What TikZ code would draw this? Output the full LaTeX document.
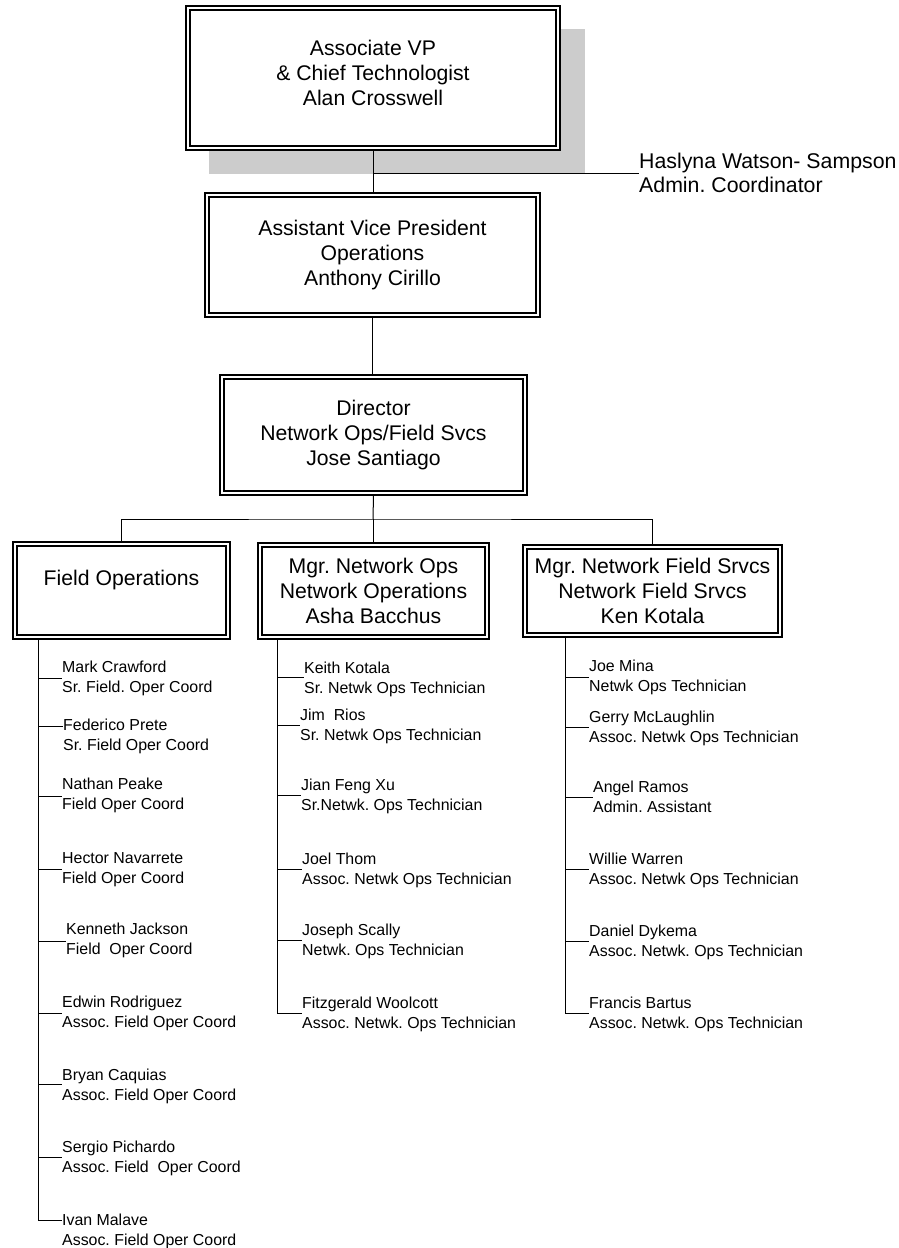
\documentclass[tikz,border=0pt]{standalone}
\usepackage{fontspec}
\setmainfont{Liberation Sans}
\usetikzlibrary{calc}
\frenchspacing
\newcommand\orgbox[6]{%
  \node[box, minimum width={#4pt-#2pt}, minimum height={#5pt-#3pt}] (#1) at ({(#2+#4)/2},{(#3+#5)/2}) {#6};
  \draw[inbox] ([shift={(4.5,4.5)}]#1.north west) rectangle ([shift={(-4.5,-4.5)}]#1.south east);
}
\newcommand\emp[6]{%
  \node[person] (#1) at (#3,#4-8) {\strut #6};
  \coordinate (#1t) at (#2,#5);
  \draw[conn] (#1t) -- (#1t -| #1.west);
}
\begin{document}
\begin{tikzpicture}[x=1pt,y=-1pt,
  conn/.style={line width=1pt},
  box/.style={draw, line width=1.1pt, fill=white, inner sep=0pt, align=center, font=\fontsize{21.2}{25.2}\selectfont},
  inbox/.style={line width=1.6pt},
  person/.style={inner sep=0pt, anchor=north west, align=left, font=\fontsize{15.9}{19.5}\selectfont\frenchspacing},
  label/.style={inner sep=0pt, anchor=north west, align=left, font=\fontsize{21.3}{24.5}\selectfont\frenchspacing},
  shadowfill/.style={fill=black!20}]
\useasboundingbox (0,0) rectangle (899,1248);
% shadow of top box
\fill[shadowfill] (209,29) rectangle (585,174);
% boxes
\orgbox{top}{186}{6}{560}{150}{Associate VP\\\& Chief Technologist\\Alan Crosswell\\[-15pt]\mbox{}}
\orgbox{vp}{205}{193}{540}{317}{Assistant Vice President\\Operations\\Anthony Cirillo}
\orgbox{dir}{220}{375}{527}{495}{Director\\Network Ops/Field Svcs\\Jose Santiago}
\orgbox{fo}{13}{542}{230}{639}{Field Operations\\\mbox{}}
\orgbox{no}{258}{543}{489}{639}{Mgr. Network Ops\\Network Operations\\Asha Bacchus}
\orgbox{nf}{523}{545}{782}{637}{Mgr. Network Field Srvcs\\Network Field Srvcs\\Ken Kotala}
% admin coordinator
\node[label] (hw) at (639,151) {\strut Haslyna Watson- Sampson\\Admin. Coordinator};
\coordinate (hj) at (373,173);
\draw[conn] (top.south) -- (top.south |- vp.north);
\draw[conn] (hj) -- (hj -| hw.west);
\draw[conn] (vp.south) -- (vp.south |- dir.north);
% bus
\coordinate (bus) at (373,519);
\draw[conn] (dir.south) -- (bus);
\draw[conn] (fo.north) |- (bus) -| (nf.north);
\draw[conn] (bus) -- (bus |- no.north);
% column 1
\emp{m1}{38}{62}{667}{678}{Mark Crawford\\Sr. Field. Oper Coord}
\emp{m2}{38}{63}{725}{726}{Federico Prete\\Sr. Field Oper Coord}
\emp{m3}{38}{62}{784}{796}{Nathan Peake\\Field Oper Coord}
\emp{m4}{38}{62}{858}{869}{Hector Navarrete\\Field Oper Coord}
\emp{m5}{38}{66}{929}{941}{Kenneth Jackson\\Field\ \ Oper Coord}
\emp{m6}{38}{62}{1002}{1013}{Edwin Rodriguez\\Assoc. Field Oper Coord}
\emp{m7}{38}{62}{1075}{1084}{Bryan Caquias\\Assoc. Field Oper Coord}
\emp{m8}{38}{62}{1147}{1157}{Sergio Pichardo\\Assoc. Field\ \ Oper Coord}
\emp{m9}{38}{62}{1220}{1220}{Ivan Malave\\Assoc. Field Oper Coord}
\draw[conn] (fo.south -| m9t) -- (m9t);
% column 2
\emp{n1}{277}{304}{668}{677}{Keith Kotala\\Sr. Netwk Ops Technician}
\emp{n2}{277}{300}{715}{725}{Jim\ \ Rios\\Sr. Netwk Ops Technician}
\emp{n3}{277}{301}{785}{795}{Jian Feng Xu\\Sr.Netwk. Ops Technician}
\emp{n4}{277}{302}{859}{869}{Joel Thom\\Assoc. Netwk Ops Technician}
\emp{n5}{277}{302}{930}{940}{Joseph Scally\\Netwk. Ops Technician}
\emp{n6}{277}{302}{1003}{1013}{Fitzgerald Woolcott\\Assoc. Netwk. Ops Technician}
\draw[conn] (no.south -| n6t) -- (n6t);
% column 3
\emp{k1}{565}{589}{666}{677}{Joe Mina\\Netwk Ops Technician}
\emp{k2}{565}{589}{717}{727}{Gerry McLaughlin\\Assoc. Netwk Ops Technician}
\emp{k3}{565}{593}{787}{797}{Angel Ramos\\Admin. Assistant}
\emp{k4}{565}{589}{859}{869}{Willie Warren\\Assoc. Netwk Ops Technician}
\emp{k5}{565}{589}{931}{941}{Daniel Dykema\\Assoc. Netwk. Ops Technician}
\emp{k6}{565}{589}{1003}{1013}{Francis Bartus\\Assoc. Netwk. Ops Technician}
\draw[conn] (nf.south -| k6t) -- (k6t);
\end{tikzpicture}
\end{document}
